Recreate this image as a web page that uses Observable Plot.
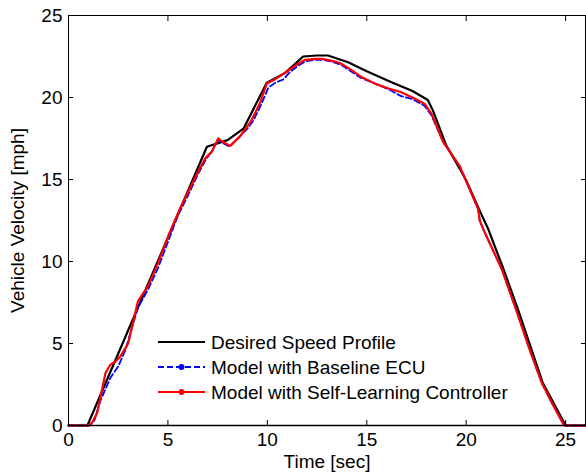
<!DOCTYPE html>
<html>
<head>
<meta charset="utf-8">
<script src="https://cdn.jsdelivr.net/npm/d3@7"></script>
<script src="https://cdn.jsdelivr.net/npm/@observablehq/plot@0.6"></script>
<style>
  html, body { margin: 0; padding: 0; background: #fff; }
  #chart { position: relative; width: 586px; height: 475px; }
</style>
</head>
<body>
<div id="chart"></div>
<script>
// ---- data ----
const desiredT = [0, 0.95, 6.96, 8.0, 8.8, 9.97, 10.9, 11.8, 12.5, 13.05, 14.06, 15.0, 16.3, 17.3, 18.07, 18.33, 19.0, 19.68, 20.0, 20.68, 21.1, 21.84, 22.6, 23.85, 25.0, 26];
const desiredV = [0, 0, 17.0, 17.4, 18.1, 20.9, 21.5, 22.5, 22.56, 22.56, 22.15, 21.6, 20.9, 20.4, 19.85, 19.2, 17.07, 15.65, 14.94, 13.1, 12.0, 9.65, 7.1, 2.6, 0, 0];

const baselineT = [0, 1.05, 1.3, 1.6, 2.1, 2.5, 2.86, 3.2, 3.5, 4.0, 4.5, 5.0, 5.5, 6.0, 6.5, 6.9, 7.2, 7.5, 7.8, 8.1, 8.6, 9.0, 9.3, 9.7, 10.05, 10.4, 10.8, 11.1, 11.5, 11.9, 12.4, 12.8, 13.2, 13.7, 14.2, 14.7, 15.5, 16.1, 16.7, 17.3, 17.9, 18.26, 18.84, 19.68, 20.6, 20.68, 20.85, 21.0, 21.8, 22.5, 23.2, 23.8, 24.3, 24.95, 26];
const baselineV = [0, 0, 0.3, 1.5, 2.9, 3.6, 4.6, 6.0, 7.2, 8.3, 9.6, 11.2, 12.8, 14.0, 15.3, 16.2, 16.7, 17.4, 17.2, 17.0, 17.6, 18.1, 18.6, 19.6, 20.6, 20.9, 21.1, 21.5, 21.9, 22.2, 22.3, 22.3, 22.2, 22.0, 21.6, 21.2, 20.8, 20.5, 20.1, 19.9, 19.5, 18.9, 17.3, 15.8, 13.2, 12.5, 12.0, 11.6, 9.5, 7.1, 4.6, 2.6, 1.4, 0, 0];

const selfT = [0, 1.0, 1.2, 1.45, 1.86, 2.1, 2.36, 2.6, 3.0, 3.27, 3.5, 4.0, 4.5, 5.1, 5.6, 5.96, 6.4, 6.88, 7.21, 7.53, 7.75, 8.13, 8.6, 8.97, 9.2, 9.64, 9.97, 10.3, 10.64, 11.0, 11.48, 11.9, 12.4, 12.8, 13.2, 13.65, 14.2, 14.66, 15.5, 16.1, 16.67, 17.3, 17.92, 18.26, 18.84, 19.68, 20.6, 20.68, 20.85, 21.0, 21.8, 22.5, 23.2, 23.8, 24.3, 24.9, 25.0, 26];
const selfV = [0, 0, 0.2, 0.8, 3.2, 3.7, 3.9, 4.2, 5.0, 6.4, 7.6, 8.5, 9.9, 11.8, 13.2, 14.1, 15.2, 16.3, 16.7, 17.5, 17.3, 17.05, 17.6, 18.2, 18.6, 19.7, 20.85, 21.05, 21.3, 21.6, 22.0, 22.3, 22.35, 22.35, 22.25, 22.1, 21.7, 21.3, 20.8, 20.55, 20.35, 20.0, 19.6, 19.0, 17.3, 15.8, 13.2, 12.5, 12.0, 11.6, 9.5, 7.1, 4.6, 2.6, 1.4, 0.05, 0, 0];

const xTicks = [0, 5, 10, 15, 20, 25];
const yTicks = [0, 5, 10, 15, 20, 25];
const seriesNames = ["Desired Speed Profile", "Model with Baseline ECU", "Model with Self-Learning Controller"];
const seriesColors = ["#000000", "#0000ff", "#ff0000"];

const toRows = (ts, vs) => ts.map((t, i) => ({t, v: vs[i]}));
const desired = toRows(desiredT, desiredV);
const baseline = toRows(baselineT, baselineV);
const selfL = toRows(selfT, selfV);

const font = "'Liberation Sans', Arial, Helvetica, sans-serif";

const plot = Plot.plot({
  width: 586,
  height: 475,
  marginLeft: 68,
  marginRight: 1,
  marginTop: 15,
  marginBottom: 50,
  style: {fontFamily: font, fontSize: "19px", color: "#000", background: "#fff", overflow: "visible"},
  x: {domain: [0, 26]},
  y: {domain: [0, 25]},
  marks: [
    Plot.line(desired, {x: "t", y: "v", stroke: seriesColors[0], strokeWidth: 2.2}),
    Plot.line(baseline, {x: "t", y: "v", stroke: seriesColors[1], strokeWidth: 1.8, strokeDasharray: "6,3"}),
    Plot.line(selfL, {x: "t", y: "v", stroke: seriesColors[2], strokeWidth: 2.2}),
    Plot.frame({stroke: "#000", strokeWidth: 1}),
    Plot.ruleY([0], {stroke: "#000", strokeWidth: 1.5}),
    Plot.axisX(xTicks, {anchor: "bottom", tickSize: 0, tickPadding: 7, label: "Time [sec]", labelAnchor: "center", labelArrow: "none", labelOffset: 42}),
    Plot.axisX(xTicks, {anchor: "bottom", tickSize: -5, tickFormat: () => "", label: null}),
    Plot.axisX(xTicks, {anchor: "top", tickSize: -5, tickFormat: () => "", label: null}),
    Plot.axisY(yTicks, {anchor: "left", tickSize: 0, tickPadding: 6, label: "Vehicle Velocity [mph]", labelAnchor: "center", labelArrow: "none", labelOffset: 58}),
    Plot.axisY(yTicks, {anchor: "left", tickSize: -5, tickFormat: () => "", label: null}),
    Plot.axisY(yTicks, {anchor: "right", tickSize: -5, tickFormat: () => "", label: null})
  ]
});
document.getElementById("chart").appendChild(plot);

// legend (no box, MATLAB style) drawn into the svg
const svg = d3.select(plot);
const lg = svg.append("g").attr("font-family", font).attr("font-size", 19).attr("text-anchor", "start");
const lx0 = 158, lx1 = 205, ly0 = 342, lstep = 25;
seriesNames.forEach((name, i) => {
  const y = ly0 + i * lstep;
  const ln = lg.append("line").attr("x1", lx0).attr("x2", lx1).attr("y1", y).attr("y2", y)
    .attr("stroke", seriesColors[i]).attr("stroke-width", i === 1 ? 1.8 : 2.2);
  if (i === 1) ln.attr("stroke-dasharray", "6,3");
  if (i > 0) lg.append("circle").attr("cx", (lx0 + lx1) / 2).attr("cy", y).attr("r", 3).attr("fill", seriesColors[i]);
  lg.append("text").attr("x", 211).attr("y", y).attr("dy", "0.35em").attr("text-anchor", "start").attr("fill", "#000").text(name);
});
</script>
</body>
</html>
